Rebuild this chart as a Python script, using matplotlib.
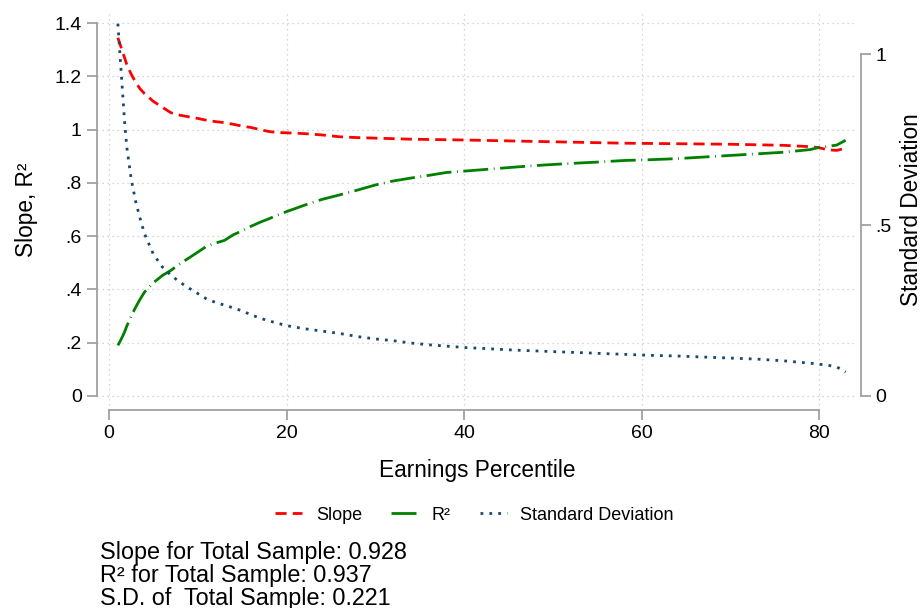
import matplotlib
matplotlib.use("Agg")
import matplotlib.pyplot as plt

plt.rcParams['font.family'] = ['Liberation Sans', 'DejaVu Sans']

# ---- data ----
percentile = [1, 1.25, 1.5, 1.75, 2, 2.5, 3, 3.5, 4, 5, 6, 7, 8, 9, 10, 11, 12, 13, 14, 15,
              16, 17, 18, 19, 20, 22, 24, 26, 28, 30, 32, 34, 36, 38, 40, 43, 46, 49, 52, 55,
              58, 61, 64, 67, 70, 73, 76, 79, 80, 81, 82, 83]

slope = [1.345, 1.32, 1.295, 1.27, 1.245, 1.208, 1.178, 1.153, 1.135, 1.106, 1.084, 1.063,
         1.054, 1.048, 1.042, 1.035, 1.030, 1.026, 1.020, 1.013, 1.008, 1.000, 0.993, 0.989,
         0.988, 0.985, 0.980, 0.973, 0.970, 0.968, 0.966, 0.964, 0.963, 0.962, 0.961, 0.959,
         0.957, 0.955, 0.953, 0.951, 0.949, 0.948, 0.947, 0.946, 0.945, 0.943, 0.941, 0.936,
         0.932, 0.924, 0.922, 0.930]

r2 = [0.190, 0.205, 0.222, 0.240, 0.262, 0.300, 0.333, 0.363, 0.390, 0.425, 0.452, 0.472,
      0.497, 0.518, 0.540, 0.562, 0.574, 0.584, 0.605, 0.620, 0.637, 0.652, 0.665, 0.679,
      0.692, 0.716, 0.738, 0.755, 0.773, 0.792, 0.807, 0.818, 0.828, 0.839, 0.844, 0.852,
      0.860, 0.867, 0.873, 0.878, 0.884, 0.887, 0.891, 0.897, 0.903, 0.909, 0.915, 0.925,
      0.933, 0.937, 0.942, 0.960]

std_dev = [1.090, 0.995, 0.900, 0.805, 0.730, 0.635, 0.570, 0.520, 0.475, 0.415, 0.378, 0.353,
           0.333, 0.316, 0.300, 0.284, 0.274, 0.266, 0.258, 0.249, 0.238, 0.228, 0.220, 0.213,
           0.206, 0.197, 0.190, 0.183, 0.174, 0.167, 0.162, 0.155, 0.150, 0.146, 0.142, 0.138,
           0.134, 0.131, 0.128, 0.125, 0.122, 0.119, 0.117, 0.114, 0.111, 0.108, 0.103, 0.096,
           0.093, 0.090, 0.085, 0.070]

x_ticks = [0, 20, 40, 60, 80]
left_ticks = [0, 0.2, 0.4, 0.6, 0.8, 1.0, 1.2, 1.4]
left_labels = ["0", ".2", ".4", ".6", ".8", "1", "1.2", "1.4"]
right_ticks = [0, 0.5, 1.0]
right_labels = ["0", ".5", "1"]

notes = ["Slope for Total Sample: 0.928",
         "R\u00b2 for Total Sample: 0.937",
         "S.D. of  Total Sample: 0.221"]

# ---- styling ----
RED = "#ff0000"
GREEN = "#008000"
NAVY = "#1a476f"
AXC = "#a0a0a0"
GRIDC = "#c8c8c8"
LW = 2.0

W, H = 924, 608
fig = plt.figure(figsize=(W / 100, H / 100), dpi=100)
L, R, B, T = 97, 857, 410, 10
ax = fig.add_axes([L / W, 1 - B / H, (R - L) / W, (B - T) / H])
ax2 = ax.twinx()

ax.set_xlim(-1.352, 84.28)
ax.set_ylim(-0.0526, 1.449)
ax2.set_ylim(-0.041, 1.130)

# grid
for yv in left_ticks:
    ax.axhline(yv, color=GRIDC, lw=0.9, ls=(0, (1, 3)), zorder=0)
for xv in x_ticks:
    ax.axvline(xv, color=GRIDC, lw=0.9, ls=(0, (1, 3)), zorder=0)

l1, = ax.plot(percentile, slope, color=RED, lw=LW, ls=(0, (4, 2.2)), label="Slope", zorder=3)
l2, = ax.plot(percentile, r2, color=GREEN, lw=LW, ls=(0, (9, 2, 0.3, 2)), label="R\u00b2", zorder=3)
l3, = ax2.plot(percentile, std_dev, color=NAVY, lw=LW, ls=(0, (1, 2.2)), label="Standard Deviation", zorder=3)

# spines
for a in (ax, ax2):
    a.spines['top'].set_visible(False)
ax.spines['right'].set_visible(False)
ax2.spines['left'].set_visible(False)
ax2.spines['bottom'].set_visible(False)
for sp in ('left', 'bottom'):
    ax.spines[sp].set_color(AXC)
    ax.spines[sp].set_linewidth(1.3)
ax.spines['left'].set_bounds(0, 1.4)
ax.spines['bottom'].set_bounds(0, 80)
ax2.spines['right'].set_color(AXC)
ax2.spines['right'].set_linewidth(1.3)
ax2.spines['right'].set_bounds(0, 1)
ax2.spines['right'].set_position(('outward', 3))

ax.set_xticks(x_ticks)
ax.set_xticklabels([str(v) for v in x_ticks])
ax.set_yticks(left_ticks)
ax.set_yticklabels(left_labels)
ax2.set_yticks(right_ticks)
ax2.set_yticklabels(right_labels)

ax.tick_params(axis='both', colors=AXC, labelcolor='black', labelsize=14, length=7, width=1.3, pad=4)
ax2.tick_params(axis='y', colors=AXC, labelcolor='black', labelsize=14, length=7, width=1.3, pad=3)

ax.set_xlabel("Earnings Percentile", fontsize=16.3, labelpad=12)
ax.set_ylabel("Slope, R\u00b2", fontsize=16.3, labelpad=12)
ax2.set_ylabel("Standard Deviation", fontsize=16.3, labelpad=6)

leg = fig.legend(handles=[l1, l2, l3], loc='center', bbox_to_anchor=(474.5 / W, 1 - 515 / H),
                 ncol=3, frameon=False, fontsize=13, handlelength=1.5,
                 handletextpad=0.75, columnspacing=1.6)

for i, s in enumerate(notes):
    fig.text(100 / W, 1 - (553 + i * 22.5) / H, s, fontsize=16.8, ha='left', va='center')

fig.savefig("out.png", dpi=100)
